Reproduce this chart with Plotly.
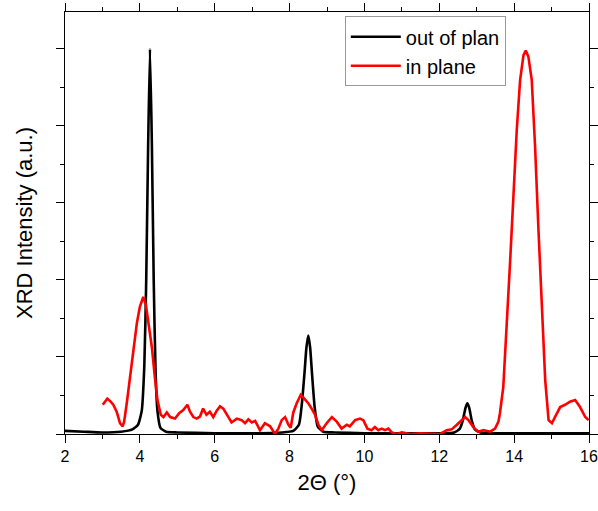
import plotly.graph_objects as go

# "out of plan" series (black)
out_x = [2.0, 2.5, 3.0, 3.5, 3.8, 3.95, 4.05, 4.12, 4.17, 4.22, 4.27, 4.32, 4.37, 4.42, 4.47,
         4.55, 4.7, 5.0, 6.0, 7.0, 7.8, 8.1, 8.25, 8.33, 8.4, 8.45, 8.5, 8.55, 8.6, 8.67, 8.75,
         8.9, 9.2, 10.0, 11.0, 12.0, 12.4, 12.55, 12.63, 12.7, 12.75, 12.8, 12.87, 12.95, 13.1,
         13.5, 14.0, 15.0, 16.0]
out_y = [0.04, 0.03, 0.02, 0.03, 0.06, 0.12, 0.30, 0.90, 2.00, 3.70, 5.00, 3.80, 2.00, 0.80, 0.30,
         0.08, 0.03, 0.02, 0.01, 0.01, 0.02, 0.04, 0.12, 0.40, 0.80, 1.12, 1.28, 1.12, 0.78, 0.35, 0.10,
         0.03, 0.02, 0.01, 0.01, 0.01, 0.02, 0.07, 0.18, 0.34, 0.40, 0.34, 0.17, 0.06, 0.02,
         0.01, 0.01, 0.01, 0.01]

# "in plane" series (red)
in_x = [3.01, 3.13, 3.22, 3.29, 3.38, 3.47, 3.54, 3.58, 3.65, 3.74, 3.83, 3.92, 4.00, 4.09, 4.16,
        4.23, 4.32, 4.40, 4.47, 4.56, 4.63, 4.72, 4.81, 4.94, 5.05, 5.16, 5.27, 5.34, 5.43, 5.52,
        5.61, 5.69, 5.78, 5.87, 5.96, 6.05, 6.14, 6.23, 6.32, 6.45, 6.59, 6.72, 6.81, 6.90, 6.99,
        7.08, 7.21, 7.34, 7.48, 7.61, 7.70, 7.79, 7.88, 7.97, 8.03, 8.10, 8.19, 8.30, 8.41, 8.50,
        8.59, 8.68, 8.77, 8.86, 8.99, 9.13, 9.26, 9.39, 9.53, 9.61, 9.75, 9.88, 9.97, 10.08, 10.19,
        10.28, 10.37, 10.46, 10.55, 10.64, 10.73, 10.86, 11.0, 11.22, 11.48, 11.84, 12.02, 12.20,
        12.33, 12.47, 12.60, 12.69, 12.78, 12.91, 13.04, 13.18, 13.36, 13.49, 13.58, 13.62, 13.71,
        13.80, 13.89, 13.98, 14.07, 14.16, 14.25, 14.31, 14.38, 14.47, 14.56, 14.65, 14.74, 14.83,
        14.92, 15.01, 15.09, 15.23, 15.36, 15.49, 15.63, 15.76, 15.90, 15.99]
in_y = [0.38, 0.46, 0.42, 0.38, 0.29, 0.14, 0.10, 0.16, 0.40, 0.74, 1.09, 1.44, 1.65, 1.78, 1.68,
        1.44, 1.13, 0.74, 0.44, 0.25, 0.22, 0.28, 0.22, 0.20, 0.27, 0.31, 0.38, 0.29, 0.22, 0.20,
        0.23, 0.33, 0.25, 0.29, 0.22, 0.30, 0.36, 0.33, 0.25, 0.15, 0.20, 0.18, 0.14, 0.19, 0.15,
        0.17, 0.05, 0.14, 0.10, 0.00, 0.07, 0.18, 0.22, 0.12, 0.08, 0.28, 0.40, 0.51, 0.45, 0.40,
        0.33, 0.25, 0.12, 0.05, 0.14, 0.22, 0.16, 0.07, 0.12, 0.10, 0.18, 0.20, 0.18, 0.07, 0.05,
        0.09, 0.05, 0.07, 0.05, 0.07, 0.02, 0.00, 0.02, 0.00, 0.01, 0.00, 0.00, 0.05,
        0.06, 0.12, 0.18, 0.22, 0.18, 0.09, 0.03, 0.05, 0.03, 0.07, 0.16, 0.27, 0.61,
        1.35, 2.22, 3.08, 3.95, 4.60, 4.92, 4.98, 4.90, 4.60, 3.73, 2.65, 1.57, 0.70,
        0.18, 0.14, 0.22, 0.35, 0.38, 0.42, 0.44, 0.35, 0.22, 0.18]

x_ticks = [2, 4, 6, 8, 10, 12, 14, 16]

FONT = "Liberation Sans, Arial, sans-serif"

fig = go.Figure()
fig.add_trace(go.Scatter(x=out_x, y=out_y, mode="lines", name="out of plan",
                         line=dict(color="black", width=2.6, shape="spline", smoothing=0.5)))
fig.add_trace(go.Scatter(x=in_x, y=in_y, mode="lines", name="in plane",
                         line=dict(color="#ff0000", width=2.6)))

axis_common = dict(showline=True, linecolor="black", linewidth=1.3, mirror="ticks",
                   ticks="outside", tickcolor="black", tickwidth=1.2, showgrid=False,
                   zeroline=False, automargin=False)

fig.update_layout(
    width=598, height=511,
    margin=dict(l=65, r=9, t=12, b=77),
    paper_bgcolor="white", plot_bgcolor="white",
    font=dict(family=FONT, color="black"),
    showlegend=True,
    legend=dict(x=0.534, y=0.99, xanchor="left", yanchor="top",
                bordercolor="#999999", borderwidth=1, bgcolor="white",
                font=dict(size=20, family=FONT), itemwidth=50,
                tracegroupgap=0),
    xaxis=dict(range=[2, 16], tickvals=x_ticks, ticklen=8,
               tickfont=dict(size=16, family=FONT),
               minor=dict(dtick=1, ticklen=4, tickcolor="black", ticks="outside", tickwidth=1.2),
               title=dict(text="2\u0398 (\u00b0)", font=dict(size=22, family=FONT), standoff=10),
               **axis_common),
    yaxis=dict(range=[0, 5.48], dtick=1, tick0=0, ticklen=8, showticklabels=False,
               minor=dict(dtick=0.5, ticklen=4, tickcolor="black", ticks="outside", tickwidth=1.2),
               title=dict(text="XRD Intensity (a.u.)", font=dict(size=22, family=FONT), standoff=17),
               **axis_common),
)

fig.write_html("out.html")
